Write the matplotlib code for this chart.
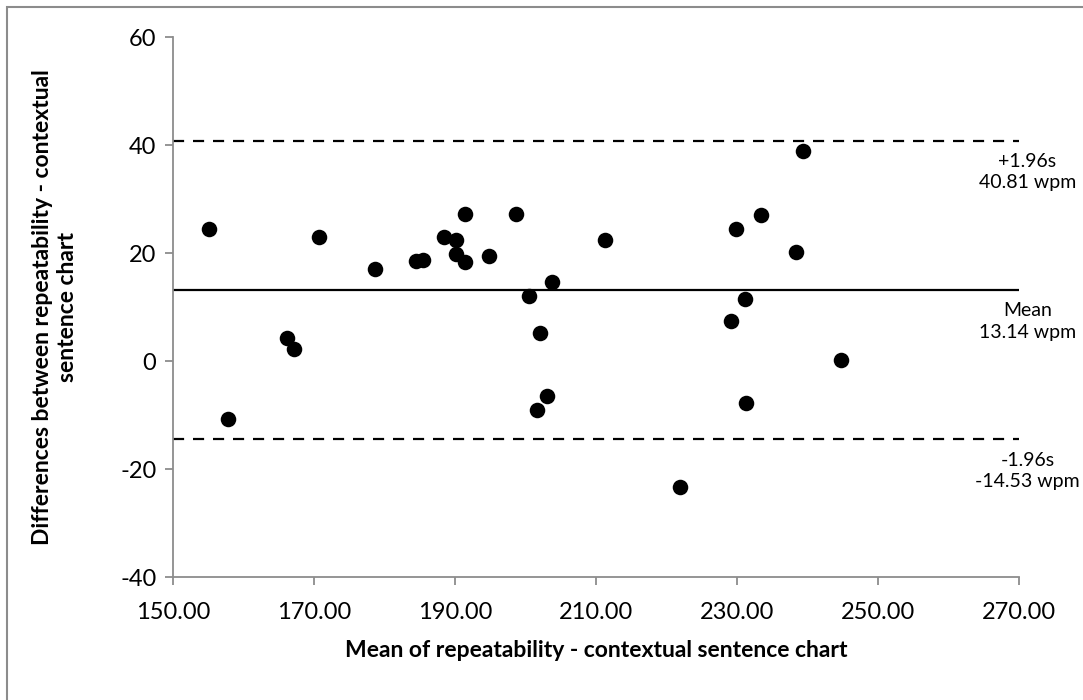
import numpy as np
import matplotlib as mpl
mpl.use('Agg')
import matplotlib.pyplot as plt
from matplotlib.patches import Rectangle

# Bland-Altman data
means = [155.1, 157.8, 166.2, 167.1, 170.7, 178.6, 184.5, 185.5, 188.5, 190.1,
         190.2, 191.4, 191.4, 194.8, 198.7, 200.5, 201.6, 202.0, 203.1, 203.7,
         211.3, 221.9, 229.2, 229.9, 231.1, 231.3, 233.4, 238.3, 239.4, 244.7]
diffs = [24.4, -10.7, 4.3, 2.2, 23.0, 17.0, 18.5, 18.7, 23.0, 22.5,
         19.9, 18.3, 27.3, 19.4, 27.3, 12.1, -9.1, 5.2, -6.4, 14.7,
         22.4, -23.3, 7.4, 24.4, 11.5, -7.8, 27.1, 20.1, 38.9, 0.2]
mean_diff = 13.14
upper = 40.81
lower = -14.53
xticks = [150, 170, 190, 210, 230, 250, 270]
yticks = [-40, -20, 0, 20, 40, 60]

plt.rcParams['font.family'] = ['Lato', 'DejaVu Sans']
plt.rcParams['axes.unicode_minus'] = False

W, H = 1083, 700
fig = plt.figure(figsize=(W / 100, H / 100), dpi=100)
ax = fig.add_axes([173 / W, 1 - 577 / H, (1019 - 173) / W, (577 - 37) / H])

# outer chart border (Excel style)
fig.patches.append(Rectangle((7 / W, -0.05), 1.1, 1 - 7 / H + 0.05, transform=fig.transFigure,
                             fill=False, edgecolor='#8c8c8c', linewidth=1.5))

ax.scatter(means, diffs, s=125, color='black', zorder=3, linewidths=0)
ax.axhline(mean_diff, color='black', linewidth=1.6)
ax.axhline(upper, color='black', linewidth=1.6, linestyle=(0, (5, 4)))
ax.axhline(lower, color='black', linewidth=1.6, linestyle=(0, (5, 4)))

ax.set_xlim(150, 270)
ax.set_ylim(-40, 60)
ax.set_xticks(xticks)
ax.set_xticklabels(['%.2f' % v for v in xticks])
ax.set_yticks(yticks)

for side in ['top', 'right']:
    ax.spines[side].set_visible(False)
for side in ['left', 'bottom']:
    ax.spines[side].set_color('#8c8c8c')
    ax.spines[side].set_linewidth(1.3)
ax.tick_params(axis='both', direction='out', length=6, width=1.3, color='#8c8c8c',
               labelsize=17, pad=6)
ax.tick_params(axis='x', pad=12)

ax.set_xlabel('Mean of repeatability - contextual sentence chart', fontsize=16.5,
              fontweight='bold', labelpad=12)
ax.set_ylabel('Differences between repeatability - contextual\nsentence chart', fontsize=16.5,
              fontweight='bold', labelpad=30, linespacing=1.25)

# labels for the limits on the right
tr = ax.get_yaxis_transform()
kw = dict(transform=tr, ha='center', va='top', fontsize=14, linespacing=1.3, clip_on=False)
ax.text(1.01, upper - 2.3, '+1.96s\n40.81 wpm', **kw)
ax.text(1.01, mean_diff - 2.3, 'Mean\n13.14 wpm', **kw)
ax.text(1.01, lower - 2.3, '-1.96s\n-14.53 wpm', **kw)

fig.savefig('out.png', dpi=100)
